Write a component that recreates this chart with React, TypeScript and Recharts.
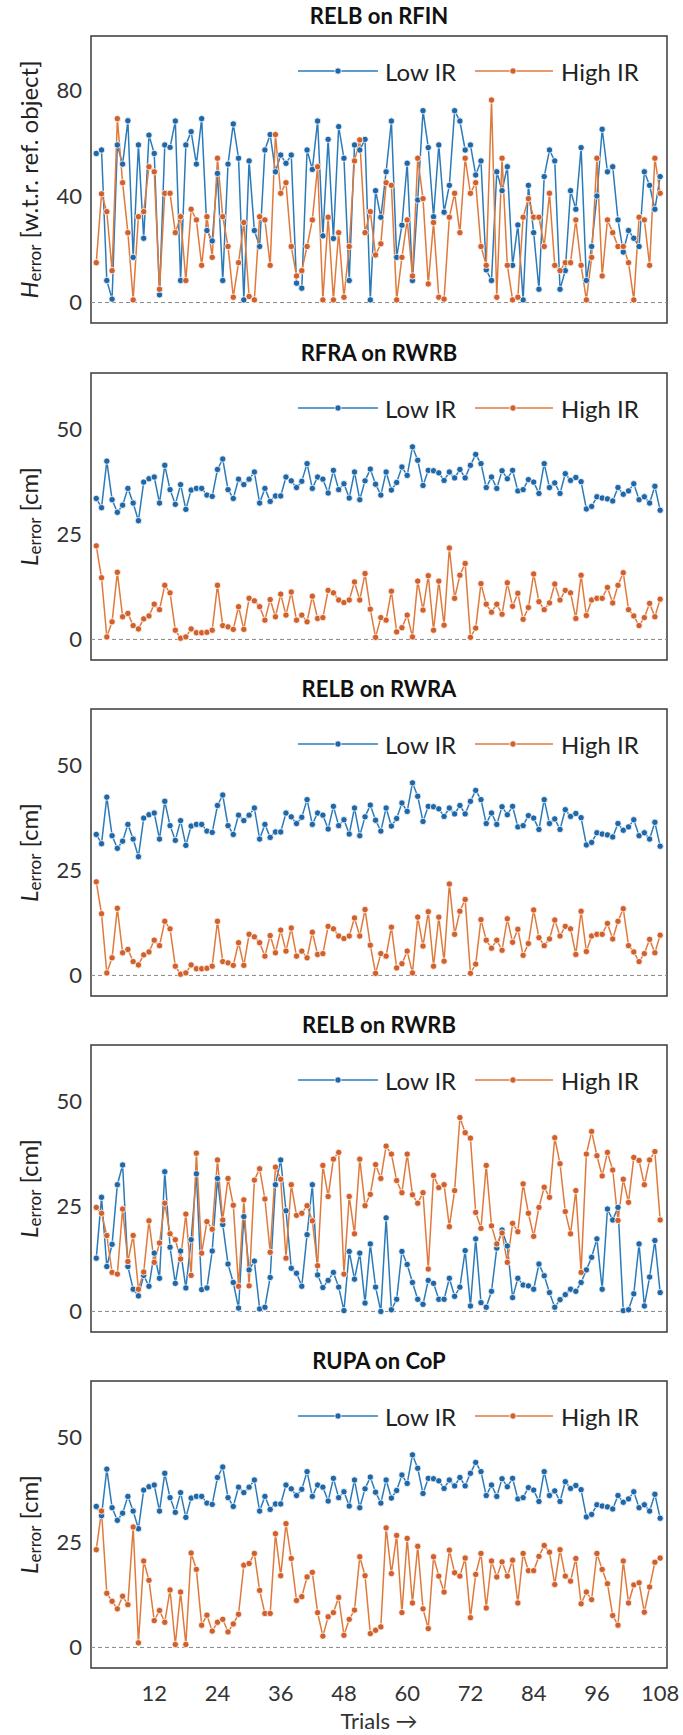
import React from "react";
import { LineChart, Line, XAxis, YAxis, ReferenceLine, ReferenceArea } from "recharts";

// trial numbers on the x axis
const trials = Array.from({ length: 108 }, (_, i) => i + 1);
const xTicks = [12, 24, 36, 48, 60, 72, 84, 96, 108];
const hTicks = [0, 40, 80];
const lTicks = [0, 25, 50];

// RELB on RFIN (H error)
const rfinLow = [
  56.1, 57.4, 8.3, 1.3, 59.3, 52.1, 68.4, 17.0, 59.3, 24.2,
  63.0, 56.1, 2.9, 59.3, 58.4, 68.3, 8.3, 59.3, 64.3, 52.1,
  69.2, 27.1, 23.2, 48.6, 8.3, 52.1, 67.2, 54.3, 1.0, 53.3,
  27.1, 21.1, 57.4, 63.2, 49.2, 55.5, 52.4, 55.5, 7.3, 5.4,
  57.4, 50.1, 68.3, 25.1, 61.4, 24.1, 66.2, 54.3, 8.3, 59.3,
  57.4, 61.4, 1.0, 42.1, 32.1, 49.2, 68.3, 17.0, 29.1, 52.4,
  8.3, 38.6, 72.2, 58.3, 32.3, 59.3, 34.0, 44.1, 72.2, 68.3,
  57.4, 59.3, 48.0, 53.3, 12.3, 8.3, 49.2, 42.1, 51.1, 14.0,
  29.2, 1.0, 44.1, 26.3, 5.0, 47.4, 57.4, 53.3, 5.0, 12.0,
  42.1, 35.1, 58.3, 8.3, 21.1, 40.1, 65.2, 49.2, 51.1, 31.1,
  19.0, 27.1, 24.2, 21.1, 49.2, 44.1, 35.1, 47.4,
];
const rfinHigh = [
  15.0, 40.9, 34.2, 12.0, 69.2, 45.1, 26.3, 1.0, 32.3, 34.2,
  51.1, 49.2, 5.0, 41.1, 41.1, 26.3, 32.3, 8.3, 35.1, 31.1,
  14.0, 32.3, 17.0, 54.3, 32.3, 21.1, 2.0, 15.0, 30.1, 2.3,
  1.0, 32.3, 31.1, 14.0, 63.2, 41.1, 45.1, 21.1, 10.0, 12.0,
  21.1, 31.1, 51.1, 1.0, 32.1, 1.0, 26.3, 2.0, 21.1, 53.3,
  61.2, 26.3, 34.2, 17.9, 22.1, 45.1, 44.1, 1.0, 17.0, 31.1,
  10.0, 54.3, 39.1, 7.0, 30.1, 2.0, 1.3, 32.1, 41.1, 26.3,
  54.3, 41.1, 45.1, 21.1, 14.0, 76.2, 2.0, 54.3, 14.0, 1.0,
  2.0, 32.1, 39.1, 32.1, 32.1, 21.1, 41.1, 14.0, 12.0, 15.0,
  15.0, 31.1, 14.0, 1.0, 17.0, 54.3, 10.0, 31.1, 26.3, 21.1,
  21.1, 15.0, 1.0, 32.1, 31.1, 14.0, 54.3, 41.1,
];

// RFRA on RWRB / RELB on RWRA (same curves), low IR also used for RUPA on CoP
const wristLow = [
  33.6, 31.4, 42.5, 33.3, 30.3, 32.0, 36.0, 32.5, 28.3, 37.5,
  38.3, 38.7, 32.5, 41.5, 35.7, 32.2, 36.9, 31.0, 35.6, 36.0,
  36.0, 34.4, 34.1, 40.5, 43.0, 35.7, 33.6, 38.2, 36.9, 38.2,
  39.9, 32.5, 36.0, 32.9, 34.2, 34.2, 38.7, 37.8, 36.2, 37.7,
  41.9, 36.0, 38.7, 38.2, 34.9, 40.3, 35.7, 37.1, 33.7, 39.9,
  33.3, 37.8, 40.6, 37.0, 34.4, 39.9, 35.6, 37.4, 41.1, 39.1,
  45.9, 42.7, 36.7, 40.3, 40.2, 39.7, 37.9, 39.9, 38.5, 40.5,
  38.5, 41.5, 44.1, 41.9, 36.2, 38.7, 36.0, 40.2, 38.3, 40.3,
  35.4, 35.7, 38.1, 37.5, 34.8, 41.9, 36.2, 37.3, 34.8, 39.5,
  37.9, 38.6, 37.6, 31.1, 31.7, 34.0, 33.7, 33.5, 33.0, 36.2,
  34.6, 35.4, 37.1, 33.3, 34.0, 32.5, 36.5, 30.8,
];
const wristHigh = [
  22.3, 14.7, 0.6, 4.2, 16.0, 5.4, 6.2, 3.3, 2.5, 4.9,
  5.6, 8.4, 7.1, 12.9, 11.1, 2.2, 0.3, 0.6, 2.5, 1.6,
  1.6, 1.7, 2.2, 12.9, 3.3, 3.0, 2.4, 7.8, 2.4, 9.8,
  9.2, 7.8, 4.6, 9.5, 5.4, 10.8, 5.8, 11.3, 4.6, 5.8,
  4.2, 10.3, 5.0, 5.2, 11.7, 11.1, 9.4, 8.8, 9.4, 13.7,
  9.4, 15.7, 7.2, 0.5, 5.2, 4.6, 11.5, 1.8, 2.8, 5.8,
  0.6, 13.9, 7.0, 15.2, 2.2, 13.9, 3.4, 21.8, 9.8, 15.3,
  18.1, 0.5, 2.7, 13.3, 8.4, 6.5, 8.4, 6.0, 13.5, 7.9,
  11.0, 4.8, 7.6, 15.6, 9.0, 7.1, 8.7, 13.2, 9.4, 11.7,
  11.1, 5.0, 15.3, 5.7, 9.4, 9.8, 9.8, 12.4, 8.7, 12.9,
  15.9, 7.1, 5.6, 3.3, 5.2, 8.6, 5.4, 9.6,
];

// RELB on RWRB
const rwrbLow = [
  12.7, 27.2, 10.7, 16.0, 30.2, 34.9, 10.7, 5.3, 3.7, 8.6,
  6.0, 13.9, 7.9, 33.3, 15.3, 6.7, 14.4, 5.6, 17.1, 32.8,
  5.2, 5.6, 14.4, 31.7, 20.7, 11.3, 6.9, 0.8, 22.6, 9.9,
  12.0, 0.6, 1.0, 8.1, 30.2, 36.1, 24.0, 10.3, 9.1, 6.0,
  18.3, 30.2, 8.7, 5.7, 7.4, 9.3, 5.8, 0.2, 14.3, 7.7,
  13.9, 2.0, 16.1, 5.8, 0.0, 22.3, 0.4, 2.9, 14.3, 11.2,
  6.9, 2.9, 1.7, 7.4, 6.7, 2.9, 2.9, 7.9, 3.6, 5.8,
  14.5, 1.3, 17.3, 2.1, 1.0, 4.8, 15.1, 19.4, 15.6, 3.3,
  7.9, 6.3, 6.1, 5.3, 11.3, 8.5, 4.5, 1.0, 2.8, 4.0,
  5.3, 4.8, 6.9, 9.9, 12.9, 17.3, 5.3, 24.4, 21.8, 24.8,
  0.2, 0.4, 4.2, 16.1, 1.3, 8.2, 16.9, 4.5,
];
const rwrbHigh = [
  24.8, 23.4, 18.1, 9.3, 8.9, 24.4, 11.9, 18.1, 5.3, 9.4,
  21.6, 11.7, 16.3, 25.8, 18.5, 17.1, 12.5, 23.2, 8.6, 37.7,
  13.9, 21.4, 19.6, 36.1, 21.8, 31.7, 25.3, 6.0, 26.6, 6.1,
  31.3, 34.0, 26.8, 14.1, 34.4, 31.5, 12.7, 30.2, 22.9, 23.4,
  25.2, 21.6, 10.9, 34.8, 27.4, 36.3, 37.9, 8.9, 27.4, 18.5,
  36.3, 25.2, 27.9, 35.0, 31.7, 39.4, 37.5, 31.2, 28.3, 37.5,
  27.8, 25.8, 28.3, 10.1, 32.4, 29.5, 30.2, 20.2, 28.8, 46.2,
  42.6, 41.3, 23.6, 19.8, 34.8, 20.4, 16.1, 18.7, 11.7, 21.0,
  19.0, 30.4, 23.4, 17.9, 24.8, 29.6, 27.2, 41.4, 35.2, 23.8,
  18.5, 28.8, 9.3, 37.5, 42.9, 37.1, 32.3, 37.9, 33.7, 21.7,
  31.5, 26.0, 36.7, 36.0, 30.2, 36.1, 38.1, 21.8,
];

// RUPA on CoP, high IR
const copHigh = [
  23.3, 32.5, 12.9, 11.0, 9.2, 12.2, 10.2, 28.7, 1.1, 20.6,
  16.0, 6.4, 8.8, 6.0, 13.7, 0.7, 13.2, 0.7, 22.5, 18.6,
  5.3, 7.7, 3.9, 6.0, 6.7, 3.7, 5.6, 7.9, 19.6, 20.0,
  22.4, 13.6, 8.1, 8.1, 27.1, 17.1, 29.5, 21.2, 11.2, 12.1,
  16.8, 17.9, 8.3, 2.7, 7.3, 8.3, 11.9, 2.9, 6.7, 8.9,
  21.6, 17.1, 3.3, 4.1, 4.9, 28.5, 17.6, 26.7, 8.3, 26.0,
  10.6, 24.1, 9.2, 4.5, 21.6, 17.0, 13.2, 23.2, 17.8, 17.0,
  21.3, 7.1, 17.4, 22.4, 9.4, 20.6, 16.8, 20.4, 17.0, 20.8,
  10.6, 22.4, 18.3, 18.3, 21.7, 24.3, 22.7, 15.0, 23.3, 17.0,
  15.8, 21.2, 10.4, 13.2, 11.4, 22.4, 18.6, 15.2, 7.6, 5.3,
  20.6, 10.6, 14.9, 15.4, 8.4, 14.4, 20.3, 21.3,
];

const BLUE = "#2b7bba";
const BLUE_DOT = "#1f67a6";
const ORANGE = "#e07a3c";
const ORANGE_DOT = "#d0602c";
const FONT = "Lato, 'Open Sans', sans-serif";

const W = 683;
const FRAME_H = 287;
const PAD = 2;
const X_DOMAIN: [number, number] = [0, 109.3];

const YLabel = ({ sym, unit }: { sym: string; unit: string }) => {
  const cx = 28;
  const cy = PAD + FRAME_H / 2;
  return (
    <text
      x={cx}
      y={cy}
      transform={`rotate(-90 ${cx} ${cy})`}
      textAnchor="middle"
      dominantBaseline="central"
      fontSize={24}
      fontFamily={FONT}
      fill="#222"
    >
      <tspan fontStyle="italic">{sym}</tspan>
      <tspan fontSize={17} dy={6}>error</tspan>
      <tspan dy={-6}>{" " + unit}</tspan>
    </text>
  );
};

const LegendRow = () => (
  <svg width={W} height={30} style={{ position: "absolute", left: 0, top: 0 }}>
    <line x1={298} x2={378} y1={15} y2={15} stroke={BLUE} strokeWidth={1.6} />
    <circle cx={338} cy={15} r={3.2} fill={BLUE_DOT} stroke="#fff" strokeWidth={0.8} />
    <text x={385} y={15} dominantBaseline="central" fontSize={24} fontFamily={FONT} fill="#222">
      Low IR
    </text>
    <line x1={475} x2={553} y1={15} y2={15} stroke={ORANGE} strokeWidth={1.6} />
    <circle cx={513} cy={15} r={3.2} fill={ORANGE_DOT} stroke="#fff" strokeWidth={0.8} />
    <text x={561} y={15} dominantBaseline="central" fontSize={24} fontFamily={FONT} fill="#222">
      High IR
    </text>
  </svg>
);

interface PanelProps {
  title: string;
  top: number;
  low: number[];
  high: number[];
  sym: string;
  unit: string;
  domain: [number, number];
  ticks: number[];
  showX?: boolean;
}

const Panel: React.FC<PanelProps> = ({ title, top, low, high, sym, unit, domain, ticks, showX = false }) => {
  const data = trials.map((t, i) => ({ trial: t, low: low[i], high: high[i] }));
  const xAxisH = 66;
  const height = PAD + FRAME_H + (showX ? xAxisH : PAD);

  return (
    <>
      <div
        style={{
          position: "absolute",
          top: top - 34,
          left: 91,
          width: 576,
          textAlign: "center",
          fontFamily: FONT,
          fontWeight: 700,
          fontSize: 22,
          lineHeight: "28px",
          color: "#111",
        }}
      >
        {title}
      </div>
      <div style={{ position: "absolute", top: top - PAD, left: 0, width: W, height }}>
        <LineChart
          width={W}
          height={height}
          data={data}
          margin={{ top: PAD, right: 16, bottom: showX ? 0 : PAD, left: 0 }}
        >
          <XAxis
            dataKey="trial"
            type="number"
            domain={X_DOMAIN}
            allowDataOverflow
            hide={!showX}
            ticks={xTicks}
            height={xAxisH}
            axisLine={false}
            tickLine={false}
            tickSize={6}
            tickMargin={11}
            tick={{ fontSize: 22, fill: "#333", fontFamily: FONT }}
            label={(props: any) => (
              <text
                x={91 + 576 / 2}
                y={PAD + FRAME_H + 52}
                textAnchor="middle"
                dominantBaseline="central"
                fontSize={22}
                fontFamily={FONT}
                fill="#333"
              >
                Trials →
              </text>
            )}
          />
          <YAxis
            type="number"
            domain={domain}
            allowDataOverflow
            ticks={ticks}
            width={91}
            axisLine={false}
            tickLine={false}
            tickSize={6}
            tickMargin={3}
            tick={{ fontSize: 22, fill: "#333", fontFamily: FONT }}
            label={() => <YLabel sym={sym} unit={unit} />}
          />
          <ReferenceArea
            x1={X_DOMAIN[0]}
            x2={X_DOMAIN[1]}
            y1={domain[0]}
            y2={domain[1]}
            fill="none"
            stroke="#3a3a3a"
            strokeWidth={1.5}
            ifOverflow="visible"
          />
          <ReferenceLine y={0} stroke="#8a8a8a" strokeWidth={1} strokeDasharray="4 3" />
          <Line
            type="linear"
            dataKey="low"
            stroke={BLUE}
            strokeWidth={1.5}
            dot={{ r: 3.2, fill: BLUE_DOT, stroke: "#fff", strokeWidth: 0.8 }}
            activeDot={false}
            isAnimationActive={false}
          />
          <Line
            type="linear"
            dataKey="high"
            stroke={ORANGE}
            strokeWidth={1.5}
            dot={{ r: 3.2, fill: ORANGE_DOT, stroke: "#fff", strokeWidth: 0.8 }}
            activeDot={false}
            isAnimationActive={false}
          />
        </LineChart>
      </div>
      <div style={{ position: "absolute", top: top + 20, left: 0, width: W, height: 30 }}>
        <LegendRow />
      </div>
    </>
  );
};

const H_DOMAIN: [number, number] = [-7.7, 100.3];
const L_DOMAIN: [number, number] = [-4.9, 63.5];

export default function App() {
  return (
    <div style={{ position: "absolute", top: 0, left: 0, width: W, height: 1735, background: "#fff" }}>
      <Panel title="RELB on RFIN" top={36} low={rfinLow} high={rfinHigh} sym="H" unit="[w.t.r. ref. object]" domain={H_DOMAIN} ticks={hTicks} />
      <Panel title="RFRA on RWRB" top={372.7} low={wristLow} high={wristHigh} sym="L" unit="[cm]" domain={L_DOMAIN} ticks={lTicks} />
      <Panel title="RELB on RWRA" top={709} low={wristLow} high={wristHigh} sym="L" unit="[cm]" domain={L_DOMAIN} ticks={lTicks} />
      <Panel title="RELB on RWRB" top={1045.1} low={rwrbLow} high={rwrbHigh} sym="L" unit="[cm]" domain={L_DOMAIN} ticks={lTicks} />
      <Panel title="RUPA on CoP" top={1381.4} low={wristLow} high={copHigh} sym="L" unit="[cm]" domain={L_DOMAIN} ticks={lTicks} showX />
    </div>
  );
}
